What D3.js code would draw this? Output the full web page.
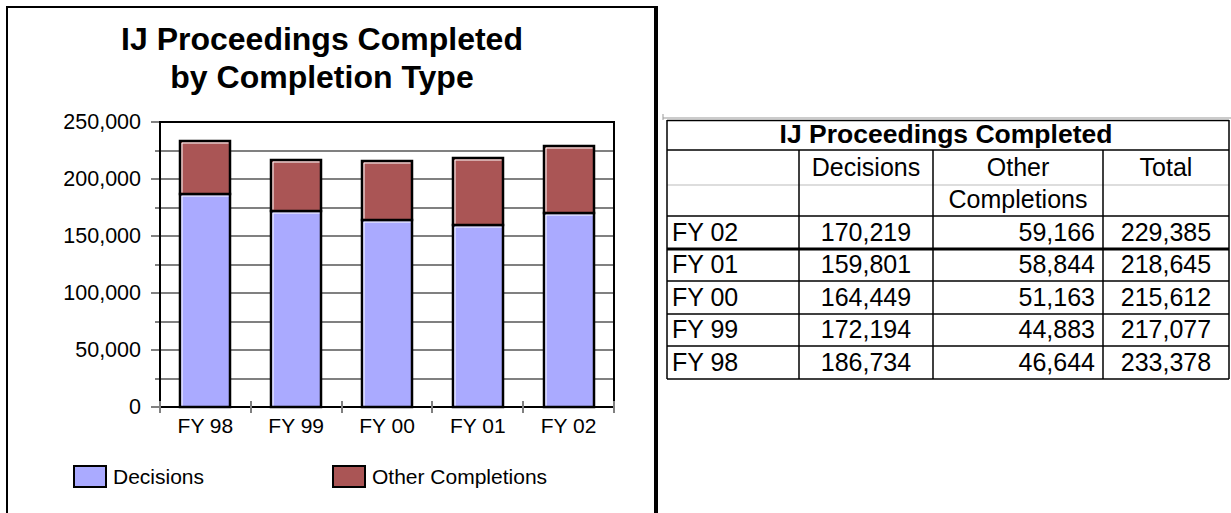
<!DOCTYPE html>
<html>
<head>
<meta charset="utf-8">
<script src="https://cdn.jsdelivr.net/npm/d3@7"></script>
<style>
  body { margin: 0; background: #fff; }
  text { font-family: "Liberation Sans", Arial, sans-serif; fill: #000; }
</style>
</head>
<body>
<div id="chart"></div>
<script>
var categories = ["FY 98", "FY 99", "FY 00", "FY 01", "FY 02"];
var decisions = [186734, 172194, 164449, 159801, 170219];
var otherCompletions = [46644, 44883, 51163, 58844, 59166];
var totals = [233378, 217077, 215612, 218645, 229385];
var yTicks = [0, 50000, 100000, 150000, 200000, 250000];
var seriesNames = ["Decisions", "Other Completions"];

var colors = { decisions: "#aaaaff", other: "#aa5555", grid: "#808080" };

var svg = d3.select("#chart").append("svg")
    .attr("width", 1231)
    .attr("height", 513);

// Frame round the chart.
svg.append("path")
    .attr("d", "M7,513 L7,7 L656,7")
    .attr("fill", "none").attr("stroke", "#000").attr("stroke-width", 2);
svg.append("line")
    .attr("x1", 656).attr("y1", 6).attr("x2", 656).attr("y2", 513)
    .attr("stroke", "#000").attr("stroke-width", 4);

// Title.
var title = svg.append("text")
    .attr("x", 322).attr("text-anchor", "middle")
    .style("font-size", "32px").style("font-weight", "bold");
title.append("tspan").attr("x", 322).attr("y", 50).text("IJ Proceedings Completed");
title.append("tspan").attr("x", 322).attr("y", 88).text("by Completion Type");

// Scales.
var x = d3.scaleBand().domain(categories).range([160, 614])
    .paddingInner(0.45).paddingOuter(0.225);
var y = d3.scaleLinear().domain([0, 250000]).range([407, 122]);
var yr = function(v) { return Math.round(y(v)); };

// Gridlines every 25,000.
var gridVals = d3.range(25000, 250000, 25000);
svg.append("g").selectAll("line").data(gridVals).enter().append("line")
    .attr("x1", 160).attr("x2", 614)
    .attr("y1", function(d) { return yr(d); })
    .attr("y2", function(d) { return yr(d); })
    .attr("stroke", colors.grid).attr("stroke-width", 2);

// Minor ticks on the left.
svg.append("g").selectAll("line").data(gridVals.filter(function(d) { return d % 50000 !== 0; }))
    .enter().append("line")
    .attr("x1", 155).attr("x2", 160)
    .attr("y1", function(d) { return yr(d); })
    .attr("y2", function(d) { return yr(d); })
    .attr("stroke", colors.grid).attr("stroke-width", 2);

// Y axis with labels.
var yAxis = svg.append("g")
    .attr("transform", "translate(160,0)")
    .call(d3.axisLeft(y).tickValues(yTicks).tickFormat(d3.format(",")).tickSize(9).tickPadding(10));
yAxis.select(".domain").remove();
yAxis.selectAll(".tick").attr("transform", function(d) { return "translate(0," + yr(d) + ")"; });
yAxis.selectAll("line").attr("stroke", colors.grid).attr("stroke-width", 2);
yAxis.selectAll("text").style("font-size", "21.5px").attr("fill", "#000");

// Stacked bars.
var barData = categories.map(function(c, i) {
    return { cat: c, dec: decisions[i], other: otherCompletions[i], total: decisions[i] + otherCompletions[i] };
});
var bars = svg.append("g").selectAll("g").data(barData).enter().append("g");

function segment(g, x0, w, top, bottom, fill) {
    g.append("rect")
        .attr("x", x0).attr("y", top)
        .attr("width", w).attr("height", bottom - top)
        .attr("fill", fill).attr("stroke", "#000").attr("stroke-width", 2.5);
    g.append("path")
        .attr("d", "M" + (x0 + 2) + "," + (bottom - 1.5) + " L" + (x0 + 2) + "," + (top + 2) + " L" + (x0 + w - 1.5) + "," + (top + 2))
        .attr("fill", "none").attr("stroke", "#fff").attr("stroke-width", 1);
}

bars.each(function(d) {
    var g = d3.select(this);
    var x0 = Math.round(x(d.cat)), w = Math.round(x.bandwidth());
    segment(g, x0, w, yr(d.dec), yr(0), colors.decisions);
    segment(g, x0, w, yr(d.total), yr(d.dec), colors.other);
});

// Plot border.
svg.append("rect")
    .attr("x", 160).attr("y", 122)
    .attr("width", 454).attr("height", 285)
    .attr("fill", "none").attr("stroke", "#000").attr("stroke-width", 2);

// Category boundary ticks.
var bounds = [160].concat(categories.map(function(c) {
    return Math.round(x(c) + x.bandwidth() + x.step() * x.paddingInner() / 2);
}));
svg.append("g").selectAll("line").data(bounds).enter().append("line")
    .attr("x1", function(d) { return d; }).attr("x2", function(d) { return d; })
    .attr("y1", 401).attr("y2", 413)
    .attr("stroke", colors.grid).attr("stroke-width", 2);

// X labels.
var xAxis = svg.append("g")
    .attr("transform", "translate(0,407)")
    .call(d3.axisBottom(x).tickSize(0).tickPadding(11));
xAxis.select(".domain").remove();
xAxis.selectAll("text").style("font-size", "21px").attr("fill", "#000");

// Legend.
var legendX = [74, 333];
var legendFill = [colors.decisions, colors.other];
var legend = svg.append("g").selectAll("g").data(seriesNames).enter().append("g");
legend.append("rect")
    .attr("x", function(d, i) { return legendX[i]; }).attr("y", 466)
    .attr("width", 32).attr("height", 21)
    .attr("fill", function(d, i) { return legendFill[i]; })
    .attr("stroke", "#000").attr("stroke-width", 2);
legend.append("text")
    .attr("x", function(d, i) { return legendX[i] + 39; }).attr("y", 484)
    .style("font-size", "21px")
    .text(function(d) { return d; });

// ---- Table on the right ----
var colEdges = [667, 799, 933, 1103, 1229];
var rowEdges = [216, 249, 281, 314, 346, 379];
var tableRows = [4, 3, 2, 1, 0]; // FY 02 first

var tbl = svg.append("g");
tbl.append("line").attr("x1", 663).attr("x2", 1231).attr("y1", 118).attr("y2", 118)
    .attr("stroke", "#999").attr("stroke-width", 1);
tbl.append("line").attr("x1", 663).attr("x2", 663).attr("y1", 114).attr("y2", 120)
    .attr("stroke", "#999").attr("stroke-width", 1);

function hline(yy, x1, x2, col, sw) {
    tbl.append("line").attr("x1", x1).attr("x2", x2).attr("y1", yy).attr("y2", yy)
        .attr("stroke", col).attr("stroke-width", sw);
}
function vline(xx, y1, y2, sw) {
    tbl.append("line").attr("x1", xx).attr("x2", xx).attr("y1", y1).attr("y2", y2)
        .attr("stroke", "#000").attr("stroke-width", sw);
}
hline(120.5, 667, 1229, "#000", 1.5);
hline(150, 667, 1229, "#000", 1.5);
hline(185, 667, 1229, "#bbb", 1);
hline(216, 667, 1229, "#000", 1.5);
rowEdges.slice(1).forEach(function(r, i) {
    hline(r, 667, 1229, "#000", i === 0 ? 3 : 1.5);
});
vline(colEdges[0], 120, 379, 1.5);
vline(colEdges[4], 120, 379, 1.5);
colEdges.slice(1, 4).forEach(function(c) { vline(c, 150, 379, 1.5); });

tbl.append("text").attr("x", 946).attr("y", 143).attr("text-anchor", "middle")
    .style("font-size", "26.5px").style("font-weight", "bold")
    .text("IJ Proceedings Completed");

var headFont = "25px";
tbl.append("text").attr("x", 866).attr("y", 176).attr("text-anchor", "middle")
    .style("font-size", headFont).text("Decisions");
tbl.append("text").attr("x", 1018).attr("y", 176).attr("text-anchor", "middle")
    .style("font-size", headFont).text("Other");
tbl.append("text").attr("x", 1018).attr("y", 208).attr("text-anchor", "middle")
    .style("font-size", headFont).text("Completions");
tbl.append("text").attr("x", 1166).attr("y", 176).attr("text-anchor", "middle")
    .style("font-size", headFont).text("Total");

var fmt = d3.format(",");
tableRows.forEach(function(idx, r) {
    var base = (rowEdges[r] + rowEdges[r + 1]) / 2 + 8;
    tbl.append("text").attr("x", 672).attr("y", base)
        .style("font-size", headFont).text(categories[idx]);
    tbl.append("text").attr("x", 866).attr("y", base).attr("text-anchor", "middle")
        .style("font-size", headFont).text(fmt(decisions[idx]));
    tbl.append("text").attr("x", 1095).attr("y", base).attr("text-anchor", "end")
        .style("font-size", headFont).text(fmt(otherCompletions[idx]));
    tbl.append("text").attr("x", 1166).attr("y", base).attr("text-anchor", "middle")
        .style("font-size", headFont).text(fmt(totals[idx]));
});
</script>
</body>
</html>
